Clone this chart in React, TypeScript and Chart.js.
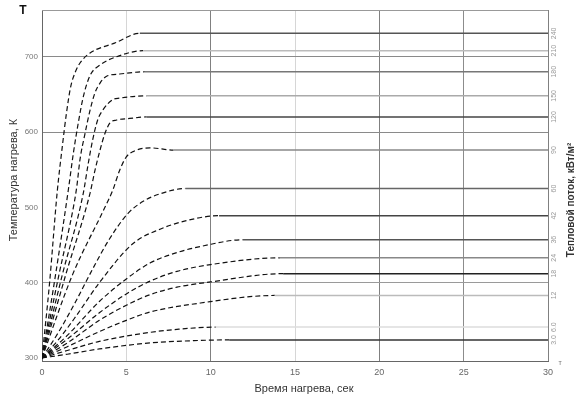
import React, { useEffect, useRef } from "react";
import { Chart, registerables } from "chart.js";
Chart.register(...registerables);

// ---- Data ----
const xTicks = [0, 5, 10, 15, 20, 25, 30];
const yTicks = [300, 400, 500, 600, 700];
const fluxLabels = ["240", "210", "180", "150", "120", "90", "60", "42", "36", "24", "18", "12", "6.0", "3.0"];

const c240 = [[0, 300], [0.45, 400], [0.9, 520], [1.2, 580], [1.45, 625], [1.7, 660], [2.0, 681], [2.3, 693], [2.85, 705], [4.3, 718], [5.8, 731], [30, 731]];
const c210 = [[0, 300], [0.8, 410], [1.56, 523], [1.86, 572], [2.15, 612], [2.45, 647], [2.85, 675], [3.44, 689], [4.43, 700], [6.0, 708], [30, 708]];
const c180 = [[0, 300], [1.0, 410], [1.86, 500], [2.06, 527], [2.25, 563], [2.55, 598], [2.85, 629], [3.14, 652], [3.44, 665], [3.83, 674], [4.6, 677], [6.1, 680], [30, 680]];
const c150 = [[0, 300], [1.2, 410], [2.45, 519], [2.74, 558], [3.0, 589], [3.3, 616], [3.6, 629], [4.2, 643], [4.6, 645], [6.2, 648], [30, 648]];
const c120 = [[0, 300], [1.4, 410], [2.85, 519], [3.14, 549], [3.44, 576], [3.73, 598], [4.03, 612], [4.43, 616], [5.2, 618], [6.2, 620], [30, 620]];
const c90 = [[0, 300], [1.8, 410], [3.73, 500], [4.2, 523], [4.6, 549], [5.0, 567], [5.4, 574], [6.4, 579], [7.8, 576], [30, 576]];
const c60 = [[0, 300], [1, 335], [2, 375], [3, 418], [4, 458], [5.1, 492], [6, 508], [7, 518], [8.5, 525], [30, 525]];
const c42 = [[0, 300], [1, 325], [2, 355], [3.4, 400], [5.4, 452], [7, 471], [8.5, 482], [10.5, 489], [30, 489]];
const c36 = [[0, 300], [1.5, 330], [3.4, 375], [5, 405], [6.4, 426], [8, 440], [9.6, 449], [11.9, 457], [30, 457]];
const c24 = [[0, 300], [1.5, 325], [3.4, 360], [5, 385], [6.4, 402], [8, 415], [10, 424], [14.1, 433], [30, 433]];
const c18 = [[0, 300], [1.5, 320], [3.4, 350], [5, 370], [6.4, 384], [8, 394], [10, 401], [14.3, 412], [30, 412]];
const c12 = [[0, 300], [1.5, 315], [3.4, 335], [5, 350], [6.4, 361], [9.4, 373], [13.8, 383], [30, 383]];
const c6 = [[0, 300], [1.5, 310], [3.4, 322], [6.4, 334], [8, 338], [10.3, 341], [30, 341]];
const c3 = [[0, 300], [1.5, 305], [3.4, 312], [6.4, 320], [9, 323], [11.1, 324], [30, 324]];

const curves = [c240, c210, c180, c150, c120, c90, c60, c42, c36, c24, c18, c12, c6, c3];

// ---- Styles ----
const plateauColors = ["#555", "#bbb", "#777", "#aaa", "#444", "#888", "#666", "#444", "#555", "#888", "#222", "#bbb", "#ddd", "#333"];
const FONT = "'Liberation Sans', Arial, sans-serif";

export default function App() {
  const ref = useRef<HTMLCanvasElement | null>(null);
  useEffect(() => {
    const canvas = ref.current!;
    const datasets = curves.map((c, i) => {
      const endX = c[c.length - 2][0];
      return {
        data: c.map(([x, y]) => ({ x, y })),
        borderColor: "#111",
        borderWidth: 1.2,
        pointRadius: 0,
        cubicInterpolationMode: "monotone" as const,
        segment: {
          borderDash: (ctx: any) => (ctx.p0.parsed.x >= endX - 1e-9 ? [] : [5, 3]),
          borderColor: (ctx: any) => (ctx.p0.parsed.x >= endX - 1e-9 ? plateauColors[i] : "#111"),
          borderWidth: (ctx: any) => (ctx.p0.parsed.x >= endX - 1e-9 ? 1.5 : 1.2),
        },
      };
    });

    const textPlugin = {
      id: "texts",
      afterDraw(chart: any) {
        const { ctx, chartArea } = chart;
        const ys = chart.scales.y;
        ctx.save();
        // top border
        ctx.strokeStyle = "#999";
        ctx.lineWidth = 1;
        ctx.beginPath();
        ctx.moveTo(chartArea.left, chartArea.top + 0.5);
        ctx.lineTo(chartArea.right, chartArea.top + 0.5);
        ctx.stroke();
        // T mark
        ctx.fillStyle = "#111";
        ctx.font = `bold 12px ${FONT}`;
        ctx.textAlign = "center";
        ctx.textBaseline = "middle";
        ctx.fillText("Т", 23, 11);
        // left title
        ctx.save();
        ctx.translate(14, 180);
        ctx.rotate(-Math.PI / 2);
        ctx.font = `11px ${FONT}`;
        ctx.fillStyle = "#333";
        ctx.fillText("Температура нагрева, К", 0, 0);
        ctx.restore();
        // x title
        ctx.font = `11px ${FONT}`;
        ctx.fillStyle = "#333";
        ctx.fillText("Время нагрева, сек", 304, 389);
        // right flux labels
        ctx.font = `7px ${FONT}`;
        ctx.fillStyle = "#999";
        curves.forEach((c, i) => {
          const y = ys.getPixelForValue(c[c.length - 1][1]);
          ctx.save();
          ctx.translate(chartArea.right + 6, y);
          ctx.rotate(-Math.PI / 2);
          ctx.fillText(fluxLabels[i], 0, 0);
          ctx.restore();
        });
        // right title
        ctx.save();
        ctx.translate(571, 200);
        ctx.rotate(-Math.PI / 2);
        ctx.font = `bold 10px ${FONT}`;
        ctx.fillStyle = "#333";
        ctx.fillText("Тепловой поток, кВт/м²", 0, 0);
        ctx.restore();
        // small mark
        ctx.font = `7px ${FONT}`;
        ctx.fillStyle = "#777";
        ctx.fillText("т", 560, 363);
        ctx.restore();
      },
    };

    const chart = new Chart(canvas, {
      type: "line",
      data: { datasets },
      options: {
        responsive: false,
        animation: false,
        layout: { padding: { top: 10, right: 30, left: 0, bottom: 15 } },
        plugins: { legend: { display: false }, tooltip: { enabled: false } },
        scales: {
          x: {
            type: "linear",
            min: 0,
            max: 30,
            afterBuildTicks: (s: any) => {
              s.ticks = xTicks.map((v) => ({ value: v }));
            },
            afterFit: (s: any) => {
              s.height = 30;
            },
            ticks: { color: "#666", font: { size: 9, family: FONT }, padding: 6, maxRotation: 0 },
            grid: {
              drawTicks: false,
              color: (c: any) => {
                const v = c.tick ? c.tick.value : -1;
                if (v === 10 || v === 20 || v === 30) return "#808080";
                if (v === 25) return "#8c8c8c";
                if (v === 0) return "#666";
                return "#d6d6d6";
              },
              lineWidth: 1,
            },
            border: { display: true, color: "#666" },
          },
          y: {
            type: "linear",
            min: 296,
            max: 762,
            afterBuildTicks: (s: any) => {
              s.ticks = yTicks.map((v) => ({ value: v }));
            },
            afterFit: (s: any) => {
              s.width = 42;
            },
            ticks: { color: "#777", font: { size: 8, family: FONT }, padding: 4 },
            grid: {
              drawTicks: false,
              color: (c: any) => {
                const v = c.tick ? c.tick.value : -1;
                if (v === 700 || v === 600) return "#8a8a8a";
                if (v === 400) return "#9a9a9a";
                return "rgba(0,0,0,0)";
              },
            },
            border: { display: true, color: "#666" },
          },
        },
      },
      plugins: [textPlugin],
    });
    return () => chart.destroy();
  }, []);
  return (
    <div style={{ position: "fixed", left: 0, top: 0, width: 578, height: 406, background: "#fff" }}>
      <canvas ref={ref} width={578} height={406} />
    </div>
  );
}
